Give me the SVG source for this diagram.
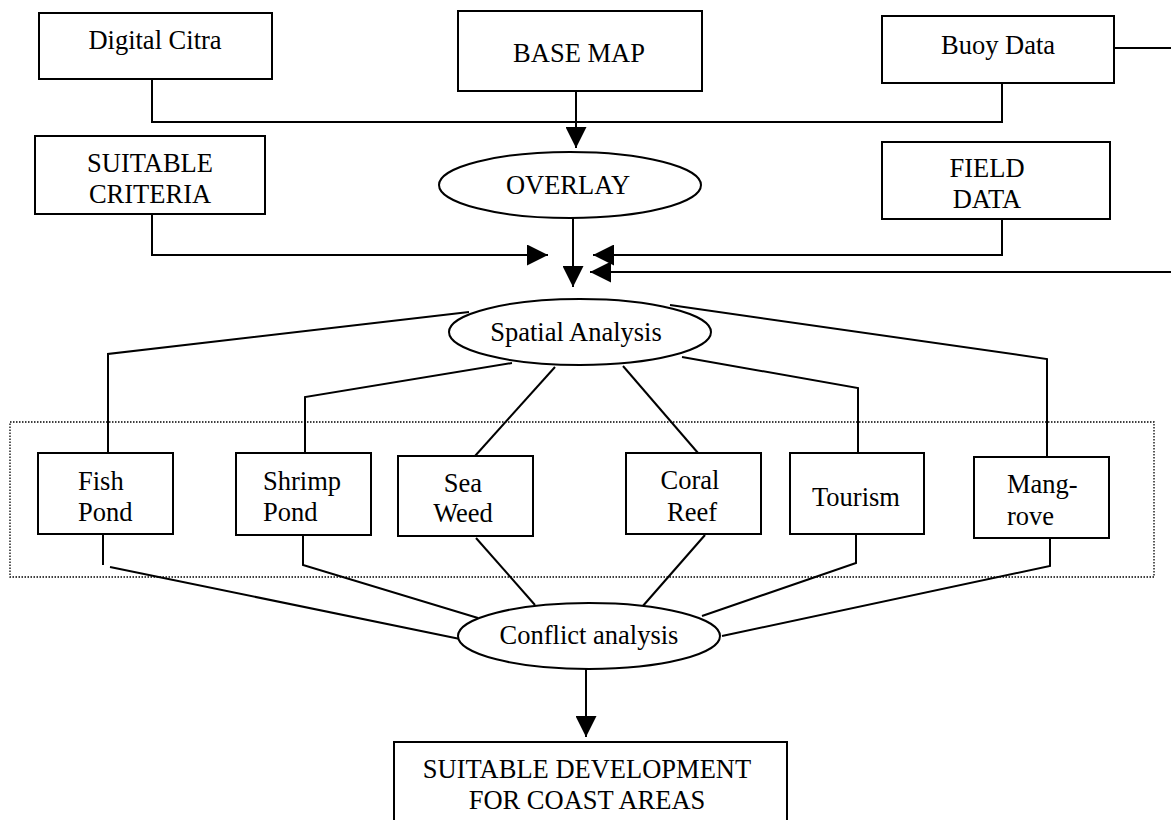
<svg xmlns="http://www.w3.org/2000/svg" width="1171" height="820" viewBox="0 0 1171 820">
<style>
.box{fill:#fff;stroke:#000;stroke-width:2}
.ell{fill:#fff;stroke:#000;stroke-width:2}
.t{font-family:"Liberation Serif","Times New Roman",serif;font-size:26.5px;fill:#000}
.c{text-anchor:middle}
.ln{fill:none;stroke:#000;stroke-width:2}
.arr{marker-end:url(#ah)}
.dot{fill:none;stroke:#000;stroke-width:1.3;stroke-dasharray:1.5 1.5}
</style>
<defs>
<marker id="ah" markerUnits="userSpaceOnUse" markerWidth="21" markerHeight="21" refX="20" refY="10" orient="auto" viewBox="0 0 20 20">
<path d="M0,0 L20,10 L0,20 z" fill="#000"/>
</marker>
</defs>
<rect class="dot" x="10" y="422" width="1144" height="155"/>
<g id="connectors">
<path class="ln" d="M152,79 V122 H1002 V83"/>
<path class="ln" d="M1114,48 H1171"/>
<path class="ln arr" d="M576,91 V148"/>
<path class="ln arr" d="M573,218 V287"/>
<path class="ln arr" d="M152,214 V255 H548"/>
<path class="ln arr" d="M1002,219 V255 H593"/>
<path class="ln arr" d="M1171,272 H590"/>
<path class="ln" d="M469,312 L108,354 V455"/>
<path class="ln" d="M512,363 L305,397 V453"/>
<path class="ln" d="M555,367 L475,456"/>
<path class="ln" d="M623,366 L698,453"/>
<path class="ln" d="M682,357 L858,388 V453"/>
<path class="ln" d="M670,305 L1047,359 V457"/>
<path class="ln" d="M103,534 V565"/>
<path class="ln" d="M110,567 L460,639"/>
<path class="ln" d="M303,535 V565 L478,618"/>
<path class="ln" d="M476,538 L535,605"/>
<path class="ln" d="M705,535 L642,607"/>
<path class="ln" d="M856,534 V563 L702,616"/>
<path class="ln" d="M1050,538 V566 L722,636"/>
<path class="ln arr" d="M586,669 V737"/>
</g>
<g id="digital-citra">
<rect class="box" x="39" y="13" width="233" height="66"/>
<text class="t c" x="155" y="49">Digital Citra</text>
</g>
<g id="base-map">
<rect class="box" x="458" y="11" width="244" height="80"/>
<text class="t c" x="579" y="62">BASE MAP</text>
</g>
<g id="buoy-data">
<rect class="box" x="882" y="16" width="232" height="67"/>
<text class="t c" x="998" y="54">Buoy Data</text>
</g>
<g id="suitable-criteria">
<rect class="box" x="35" y="136" width="230" height="78"/>
<text class="t c" x="150" y="172">SUITABLE</text>
<text class="t c" x="150" y="203">CRITERIA</text>
</g>
<g id="overlay">
<ellipse class="ell" cx="570" cy="185" rx="131" ry="33"/>
<text class="t c" x="568" y="194">OVERLAY</text>
</g>
<g id="field-data">
<rect class="box" x="882" y="142" width="228" height="77"/>
<text class="t c" x="987" y="177">FIELD</text>
<text class="t c" x="987" y="208">DATA</text>
</g>
<g id="spatial-analysis">
<ellipse class="ell" cx="580" cy="332" rx="131" ry="33"/>
<text class="t c" x="576" y="341">Spatial Analysis</text>
</g>
<g id="fish-pond">
<rect class="box" x="38" y="453" width="135" height="81"/>
<text class="t" x="78" y="490">Fish</text>
<text class="t" x="78" y="521">Pond</text>
</g>
<g id="shrimp-pond">
<rect class="box" x="236" y="453" width="135" height="82"/>
<text class="t" x="263" y="490">Shrimp</text>
<text class="t" x="263" y="521">Pond</text>
</g>
<g id="sea-weed">
<rect class="box" x="398" y="456" width="135" height="80"/>
<text class="t c" x="463" y="492">Sea</text>
<text class="t c" x="463" y="522">Weed</text>
</g>
<g id="coral-reef">
<rect class="box" x="626" y="453" width="135" height="81"/>
<text class="t c" x="690" y="489">Coral</text>
<text class="t c" x="692" y="521">Reef</text>
</g>
<g id="tourism">
<rect class="box" x="790" y="453" width="134" height="81"/>
<text class="t c" x="856" y="506">Tourism</text>
</g>
<g id="mangrove">
<rect class="box" x="974" y="457" width="135" height="81"/>
<text class="t" x="1007" y="493">Mang-</text>
<text class="t" x="1007" y="525">rove</text>
</g>
<g id="conflict-analysis">
<ellipse class="ell" cx="589" cy="636" rx="131" ry="33"/>
<text class="t c" x="589" y="644">Conflict analysis</text>
</g>
<g id="suitable-development">
<rect class="box" x="394" y="742" width="393" height="100"/>
<text class="t c" x="587" y="778">SUITABLE DEVELOPMENT</text>
<text class="t c" x="587" y="809">FOR COAST AREAS</text>
</g>
</svg>
